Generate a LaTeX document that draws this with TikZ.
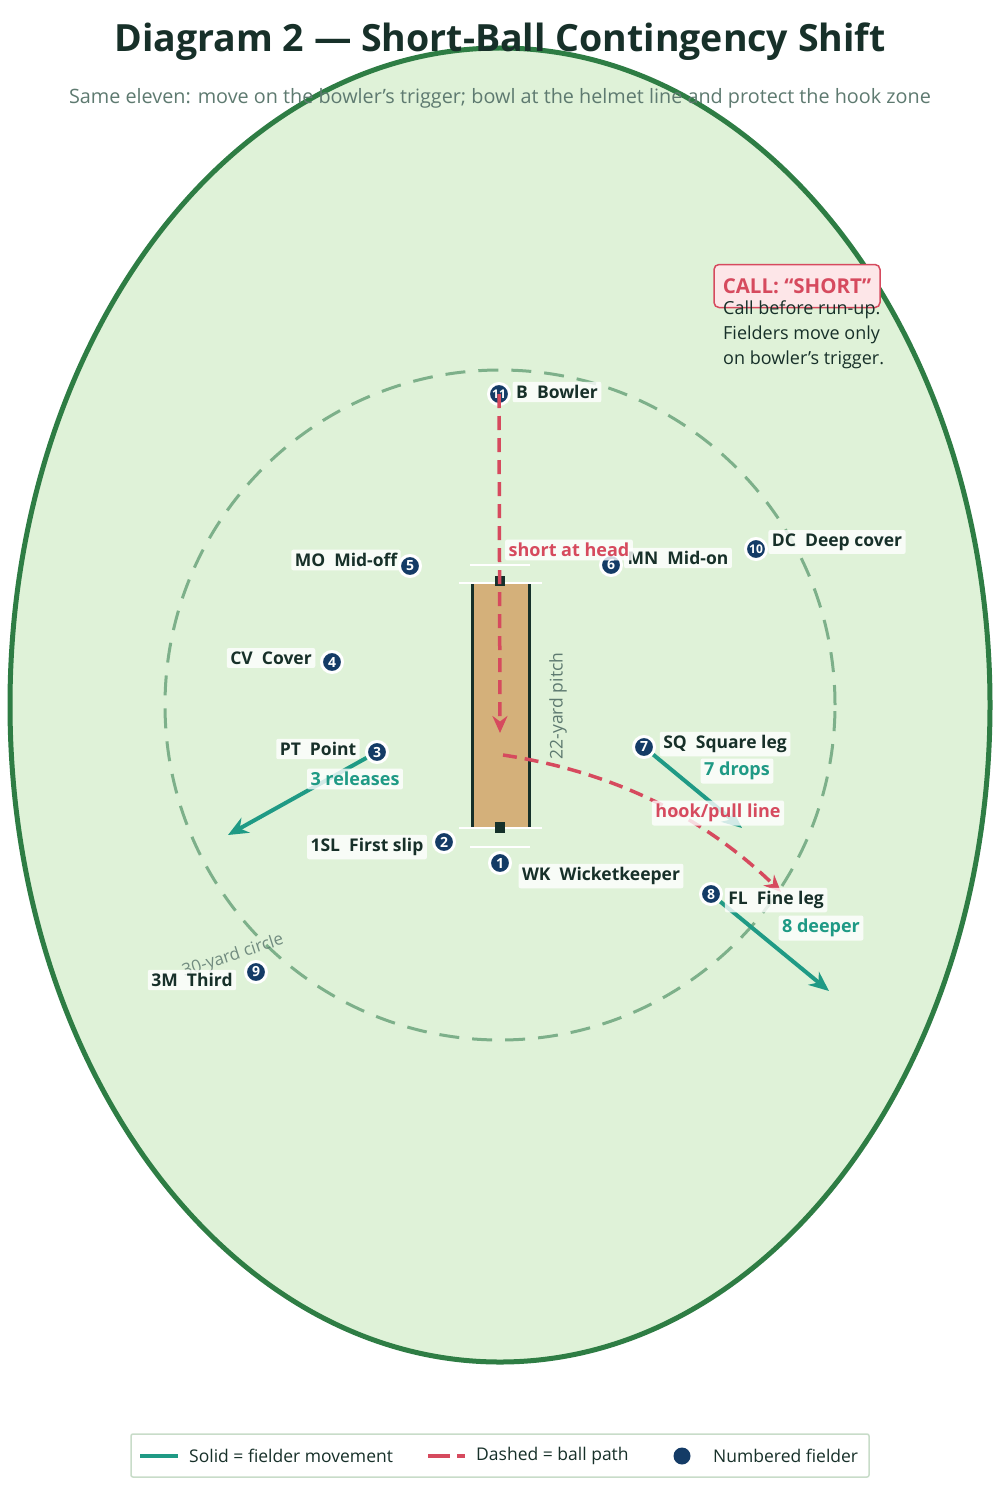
\documentclass[tikz,border=0pt]{standalone}
\usepackage{fontspec}
\setmainfont{Open Sans}
\usetikzlibrary{arrows.meta}
\definecolor{fieldfill}{HTML}{DFF2D8}
\definecolor{fieldline}{HTML}{2E7D44}
\definecolor{ringline}{HTML}{7DB08A}
\definecolor{pitchfill}{HTML}{D4B07A}
\definecolor{pitchedge}{HTML}{15302A}
\definecolor{ballred}{HTML}{D64A5E}
\definecolor{moveteal}{HTML}{1F9A85}
\definecolor{navy}{HTML}{143B66}
\definecolor{darktext}{HTML}{173029}
\definecolor{graytext}{HTML}{5E7A70}
\definecolor{callfill}{HTML}{FDE6E8}
\definecolor{legline}{HTML}{C8DCC9}
\newcommand{\fsz}[1]{\fontsize{#1}{#1}\selectfont}
\begin{document}
\begin{tikzpicture}[x=1pt,y=-1pt,
  fielder/.style={circle,fill=navy,draw=white,line width=3pt,minimum size=21pt,inner sep=0pt,text=white,font=\fsz{14}\bfseries},
  namelabel/.style={fill=white,fill opacity=0.8,text opacity=1,rounded corners=2pt,inner sep=3.5pt,text=darktext,font=\fsz{17.5}\bfseries},
  redlabel/.style={namelabel,text=ballred,font=\fsz{18}\bfseries},
  teallabel/.style={namelabel,text=moveteal,font=\fsz{18}\bfseries},
  ballpath/.style={draw=ballred,line width=3.5pt,dash pattern=on 14pt off 8pt,-{Stealth[length=17pt,width=15pt]}},
  movepath/.style={draw=moveteal,line width=4pt,-{Stealth[length=20pt,width=17pt]}},
  crease/.style={draw=white,line width=2pt},
]
\useasboundingbox (0,0) rectangle (1000,1493);
\fill[white] (0,0) rectangle (1000,1493);
% field
\draw[fill=fieldfill,draw=fieldline,line width=5pt] (500,705) ellipse [x radius=490pt,y radius=657pt];
% 30-yard circle
\draw[ringline,line width=3pt,dash pattern=on 20pt off 13pt] (500,705) circle [radius=335pt];
\node[text=graytext,font=\fsz{17},rotate=18,text opacity=0.85] (ringlbl) at (233,956) {30-yard circle};
% title
\node[text=darktext,font=\fsz{37.5}\bfseries] (title) at (500,42) {Diagram 2 — Short-Ball Contingency Shift};
\node[text=graytext,font=\fsz{19.8}] (subtitle) at (500,98) {Same eleven: move on the bowler’s trigger; bowl at the helmet line and protect the hook zone};
% pitch
\fill[pitchfill] (472,584) rectangle (529,828);
\draw[pitchedge,line width=3pt] (472,584) -- (472,828);
\draw[pitchedge,line width=3pt] (529,584) -- (529,828);
\draw[crease] (459,583) -- (542,583);
\draw[crease] (470,565) -- (530,565);
\draw[crease] (459,828) -- (542,828);
\draw[crease] (470,847) -- (530,847);
\fill[pitchedge] (495,576) rectangle (505,586);
\fill[pitchedge] (495,822) rectangle (505,833);
\node[text=graytext,font=\fsz{17.5},rotate=90] (pitchlbl) at (558,706) {22-yard pitch};
% fielders
\node[fielder] (f1) at (500,863) {1};
\node[fielder] (f2) at (444,842) {2};
\node[fielder] (f3) at (377,752) {3};
\node[fielder] (f4) at (332,662) {4};
\node[fielder] (f5) at (410,566) {5};
\node[fielder] (f6) at (611,565) {6};
\node[fielder] (f7) at (644,747) {7};
\node[fielder] (f8) at (711,894) {8};
\node[fielder] (f9) at (256,972) {9};
\node[fielder,font=\fsz{12}\bfseries] (f10) at (756,549) {10};
\node[fielder,font=\fsz{12}\bfseries] (f11) at (499,394) {11};
% movement
\coordinate (t3) at (228,835);
\coordinate (t7) at (742,828);
\coordinate (t8) at (829,991);
\draw[movepath] (f3) -- (t3);
\draw[movepath] (f7) -- (t7);
\draw[movepath] (f8) -- (t8);
% ball paths
\coordinate (bounce) at (500,733);
\coordinate (hookstart) at (503,755);
\coordinate (hookend) at (781,892);
\draw[ballpath] (f11.center) -- (bounce);
\draw[ballpath] (hookstart) .. controls (615,772) and (705,818) .. (hookend);
% labels
\node[namelabel] (l11) at (557,392) {B\ \ Bowler};
\node[namelabel] (l5) at (346,560) {MO\ \ Mid-off};
\node[namelabel] (l6) at (678,558) {MN\ \ Mid-on};
\node[namelabel] (l10) at (837,542) {DC\ \ Deep cover};
\node[namelabel] (l4) at (271,658) {CV\ \ Cover};
\node[namelabel] (l3) at (318,749) {PT\ \ Point};
\node[namelabel] (l7) at (725,744) {SQ\ \ Square leg};
\node[namelabel] (l2) at (367,847) {1SL\ \ First slip};
\node[namelabel] (l1) at (601,876) {WK\ \ Wicketkeeper};
\node[namelabel] (l8) at (776,900) {FL\ \ Fine leg};
\node[namelabel] (l9) at (192,980) {3M\ \ Third};
\node[redlabel] (shortlbl) at (569,550) {short at head};
\node[redlabel] (hooklbl) at (718,813) {hook/pull line};
\node[teallabel] (rel3) at (355,779) {3 releases};
\node[teallabel] (drop7) at (737,771) {7 drops};
\node[teallabel] (deep8) at (821,928) {8 deeper};
% call box
\node[draw=ballred,line width=1.5pt,fill=callfill,rounded corners=5pt,minimum width=166pt,minimum height=43pt,text=ballred,font=\fsz{20.5}\bfseries] (call) at (797,286) {CALL: “SHORT”};
\node[anchor=north west,align=left,text=darktext,font={\fontsize{18}{25}\selectfont},inner sep=0pt] (callnote) at (723,301) {Call before run-up.\\Fielders move only\\on bowler’s trigger.};
% legend
\draw[draw=legline,line width=1.5pt,fill=white,rounded corners=2pt] (131,1434) rectangle (869,1477);
\coordinate (lgA1) at (140,1456);
\coordinate (lgA2) at (178,1456);
\coordinate (lgB1) at (428,1456);
\coordinate (lgB2) at (465,1456);
\draw[moveteal,line width=4pt] (lgA1) -- (lgA2);
\draw[ballred,line width=4pt,dash pattern=on 22pt off 7pt] (lgB1) -- (lgB2);
\node[anchor=west,text=darktext,font=\fsz{17.5},inner sep=0pt] (lgAt) at (189,1456) {Solid = fielder movement};
\node[anchor=west,text=darktext,font=\fsz{17.5},inner sep=0pt] (lgBt) at (476,1456) {Dashed = ball path};
\node[circle,fill=navy,minimum size=17pt,inner sep=0pt] (lgdot) at (682,1456) {};
\node[anchor=west,text=darktext,font=\fsz{17.5},inner sep=0pt] (lgCt) at (713,1456) {Numbered fielder};
\end{tikzpicture}
\end{document}
